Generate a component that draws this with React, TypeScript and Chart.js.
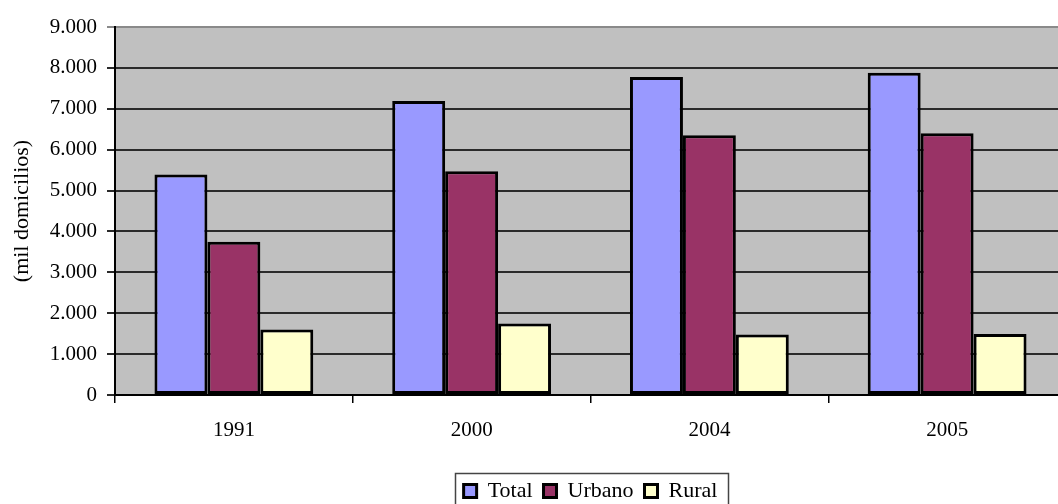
import React, { useEffect, useRef } from 'react';
import { Chart, registerables } from 'chart.js';

Chart.register(...registerables);

const categories = ['1991', '2000', '2004', '2005'];
const totalValues = [5390, 7190, 7780, 7880];
const urbanoValues = [3750, 5470, 6350, 6400];
const ruralValues = [1600, 1750, 1480, 1490];
const seriesNames = ['Total', 'Urbano', 'Rural'];
const seriesColors = ['#9999FF', '#993366', '#FFFFCC'];
const yTickLabels = ['0', '1.000', '2.000', '3.000', '4.000', '5.000', '6.000', '7.000', '8.000', '9.000'];
const yAxisTitle = '(mil domicilios)';

const FONT = 'Liberation Serif';

const plotBackground = {
  id: 'plotBackground',
  beforeDraw(chart: any) {
    const { ctx, chartArea } = chart;
    if (!chartArea) return;
    ctx.save();
    ctx.fillStyle = '#C0C0C0';
    ctx.fillRect(chartArea.left, chartArea.top, chartArea.right - chartArea.left, chartArea.bottom - chartArea.top);
    ctx.restore();
  },
};

const legendBorder = {
  id: 'legendBorder',
  afterDraw(chart: any) {
    const legend = chart.legend;
    if (!legend || !legend.legendHitBoxes || !legend.legendHitBoxes.length) return;
    const boxes = legend.legendHitBoxes;
    const left = Math.min(...boxes.map((b: any) => b.left)) - 9;
    const right = Math.max(...boxes.map((b: any) => b.left + b.width)) + 10;
    const cy = boxes[0].top + boxes[0].height / 2;
    const { ctx } = chart;
    ctx.save();
    ctx.strokeStyle = '#444';
    ctx.lineWidth = 1.5;
    ctx.strokeRect(Math.round(left) + 0.5, Math.round(cy - 18) + 0.5, Math.round(right - left), 40);
    ctx.restore();
  },
};

export default function App() {
  const ref = useRef<HTMLCanvasElement | null>(null);

  useEffect(() => {
    if (!ref.current) return;
    const values = [totalValues, urbanoValues, ruralValues];
    const chart = new Chart(ref.current, {
      type: 'bar',
      data: {
        labels: categories,
        datasets: seriesNames.map((name, i) => ({
          label: name,
          data: values[i],
          backgroundColor: seriesColors[i],
          borderColor: '#000',
          borderWidth: 3,
          borderSkipped: false,
          categoryPercentage: 0.668,
          barPercentage: 1,
        })),
      },
      options: {
        responsive: false,
        animation: false,
        layout: { padding: { top: 27, left: 0, right: 0, bottom: 0 } },
        plugins: {
          tooltip: { enabled: false },
          legend: {
            position: 'bottom',
            fullSize: false,
            labels: {
              font: { family: FONT, size: 22 },
              color: '#000',
              boxWidth: 13,
              boxHeight: 13,
              padding: 11,
            },
          },
        },
        scales: {
          x: {
            grid: {
              offset: true,
              drawOnChartArea: false,
              drawTicks: true,
              tickLength: 8,
              color: '#000',
              lineWidth: 1.5,
            },
            border: { color: '#000', width: 2 },
            ticks: {
              font: { family: FONT, size: 21 },
              color: '#000',
              padding: 15,
            },
            afterFit: (scale: any) => {
              scale.height = 74;
            },
          },
          y: {
            min: 0,
            max: 9000,
            ticks: {
              stepSize: 1000,
              font: { family: FONT, size: 21 },
              color: '#000',
              padding: 10,
              callback: (_v: any, idx: number) => yTickLabels[idx],
            },
            grid: {
              color: (ctx: any) => (ctx.index === 9 ? '#8a8a8a' : '#2a2a2a'),
              lineWidth: 2,
              tickLength: 8,
              drawTicks: true,
            },
            border: { color: '#000', width: 2 },
            title: {
              display: true,
              text: yAxisTitle,
              font: { family: FONT, size: 22 },
              color: '#000',
              padding: { top: 9, bottom: 0 },
            },
            afterFit: (scale: any) => {
              scale.width = 115;
            },
          },
        },
      },
      plugins: [plotBackground, legendBorder],
    });
    return () => chart.destroy();
  }, []);

  return (
    <div style={{ position: 'fixed', left: 0, top: 0, width: 1066, height: 512, background: '#fff' }}>
      <canvas ref={ref} width={1066} height={512} />
    </div>
  );
}
